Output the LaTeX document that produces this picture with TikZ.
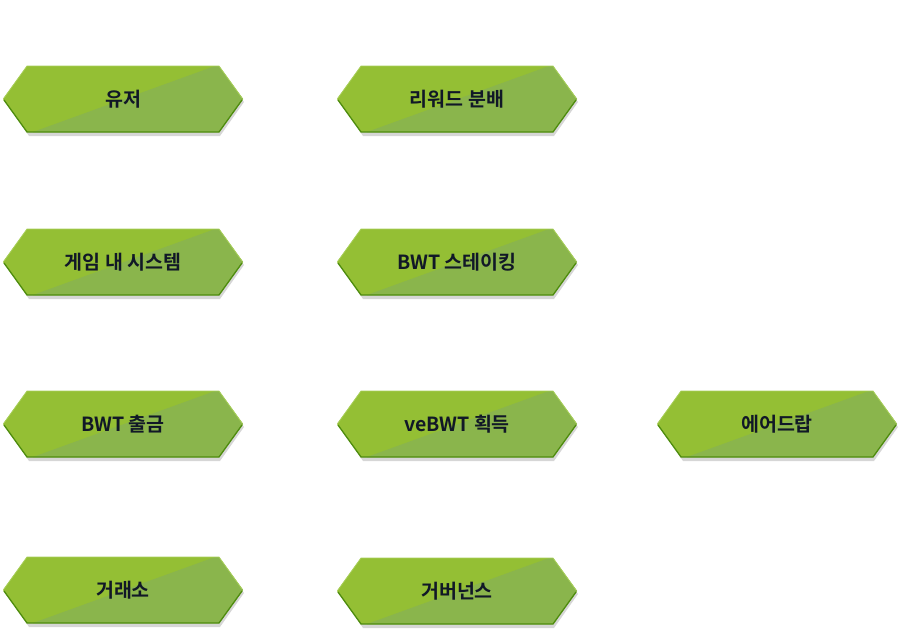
\documentclass[tikz,border=0pt]{standalone}
\usepackage{fontspec}
\newfontfamily\krfont{Noto Sans CJK KR}[BoldFont={* Bold}]
\definecolor{hexlight}{HTML}{94BF34}
\definecolor{hexdark}{HTML}{8AB54C}
\definecolor{hexedge}{HTML}{4E8C0E}
\definecolor{hextop}{HTML}{A8CF5A}
\definecolor{hextext}{HTML}{111827}
\tikzset{
  hexlabel/.style={font=\krfont\bfseries\fontsize{19.5}{22}\selectfont, text=hextext, inner sep=0pt},
}
\newcommand\hexbox[4]{%
  % #1 name, #2 x center, #3 y center, #4 text
  \begin{scope}[shift={(#2,#3)}]
    \fill[black, opacity=0.16] (-117,3) -- (-94,-31) -- (97,-31) -- (121,3) -- (97,37) -- (-94,37) -- cycle;
    \fill[hexlight] (-120,0) -- (-96,-33) -- (96,-33) -- (120,0) -- (96,33) -- (-96,33) -- cycle;
    \begin{scope}
      \clip (-120,0) -- (-96,-33) -- (96,-33) -- (120,0) -- (96,33) -- (-96,33) -- cycle;
      \fill[hexdark] (-90,33) -- (92,-33) -- (130,-33) -- (130,40) -- cycle;
    \end{scope}
    \draw[hextop, line width=0.8pt] (-119,-1) -- (-96,-33) -- (96,-33) -- (119,-1);
    \draw[hexedge, line width=1.3pt, line join=round] (-119,1) -- (-96,33) -- (96,33) -- (119,1);
    \node[hexlabel] (#1) at (0,0) {#4};
  \end{scope}}
\begin{document}
\begin{tikzpicture}[x=1pt,y=-1pt]
\useasboundingbox (0,0) rectangle (904,634);
\hexbox{user}{123}{99}{유저}
\hexbox{reward}{457}{99}{리워드 분배}
\hexbox{ingame}{123}{262}{게임 내 시스템}
\hexbox{staking}{457}{262}{BWT 스테이킹}
\hexbox{withdraw}{123}{424}{BWT 출금}
\hexbox{vebwt}{457}{424}{veBWT 획득}
\hexbox{airdrop}{777}{424}{에어드랍}
\hexbox{exchange}{123}{590}{거래소}
\hexbox{gov}{457}{591}{거버넌스}
\end{tikzpicture}
\end{document}
